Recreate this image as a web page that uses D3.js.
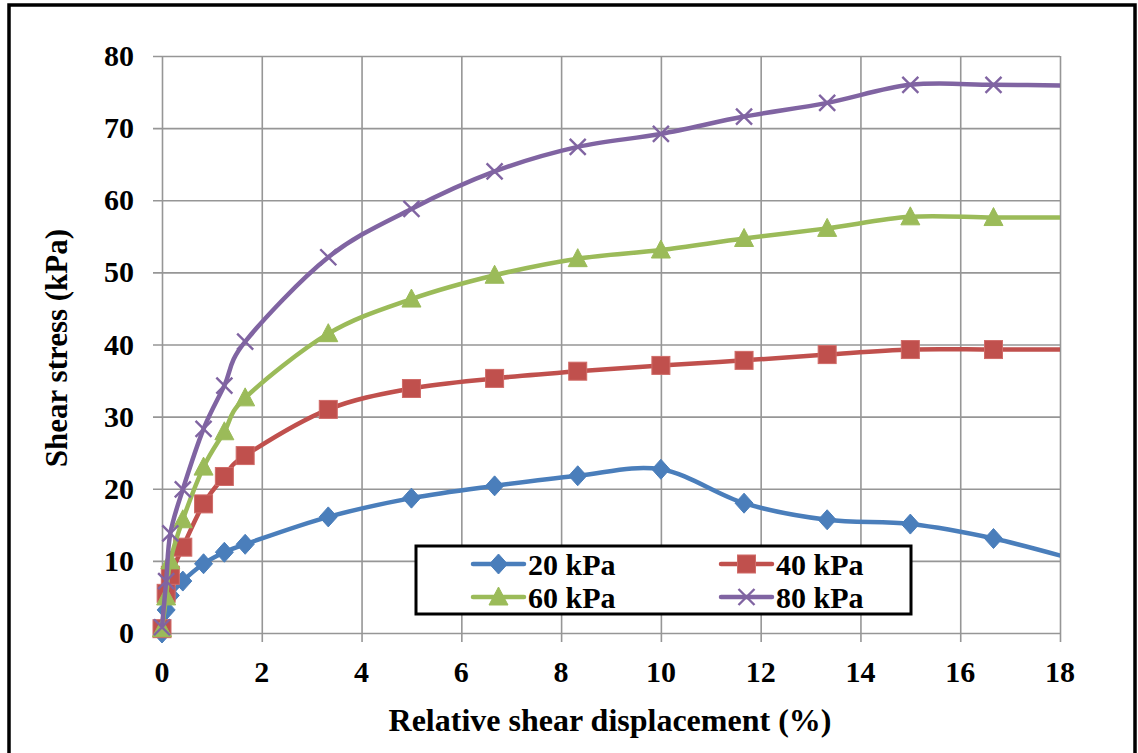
<!DOCTYPE html>
<html>
<head>
<meta charset="utf-8">
<script src="https://cdn.jsdelivr.net/npm/d3@7"></script>
<style>
  html, body { margin: 0; padding: 0; background: #fff; }
  svg { display: block; }
  text { font-family: "Liberation Serif", "Times New Roman", serif; font-weight: bold; fill: #000; }
</style>
</head>
<body>
<svg id="chart" width="1138" height="753"></svg>
<script>
// Relative shear displacement (%) at each reading
const displacement = [0, 0.083, 0.167, 0.417, 0.833, 1.25, 1.667, 3.333, 5, 6.667, 8.333, 10, 11.667, 13.333, 15, 16.667, 18.333];

// Shear stress (kPa) for each normal stress
const stress20 = [0, 3.2, 5.2, 7.2, 9.6, 11.2, 12.3, 16.1, 18.7, 20.4, 21.8, 22.7, 18.0, 15.7, 15.1, 13.1, 10.1];
const stress40 = [0.6, 5.5, 8.0, 11.9, 17.9, 21.7, 24.6, 31.0, 33.9, 35.3, 36.3, 37.1, 37.8, 38.6, 39.3, 39.3, 39.3];
const stress60 = [0.6, 5.0, 10.0, 15.7, 23.0, 27.9, 32.6, 41.5, 46.3, 49.6, 51.9, 53.1, 54.7, 56.1, 57.7, 57.6, 57.6];
const stress80 = [0.8, 7.2, 13.8, 19.9, 28.3, 34.3, 40.4, 52.1, 58.8, 64.0, 67.4, 69.2, 71.6, 73.5, 76.0, 76.0, 75.9];

const seriesNames = ["20 kPa", "40 kPa", "60 kPa", "80 kPa"];
const seriesColors = ["#4a7ebb", "#c0504d", "#9bbb59", "#8064a2"];
const seriesMarkers = ["diamond", "square", "triangle", "cross"];

const xTicks = [0, 2, 4, 6, 8, 10, 12, 14, 16, 18];
const yTicks = [0, 10, 20, 30, 40, 50, 60, 70, 80];

const series = [stress20, stress40, stress60, stress80].map((vals, i) => ({
  name: seriesNames[i],
  color: seriesColors[i],
  marker: seriesMarkers[i],
  points: vals.map((v, j) => [displacement[j], v])
}));

const svg = d3.select("#chart");
const W = 1138, H = 753;
const plot = { left: 162, right: 1060, top: 56, bottom: 633 };

// Outer frame
svg.append("rect")
  .attr("x", 9).attr("y", 5)
  .attr("width", 1126).attr("height", H + 20)
  .attr("fill", "#fff").attr("stroke", "#000").attr("stroke-width", 3.5);

const x = d3.scaleLinear().domain([0, 18]).range([plot.left, plot.right]);
const y = d3.scaleLinear().domain([0, 80]).range([plot.bottom, plot.top]);

const gridColor = "#969696";

// Horizontal gridlines with outside tick stubs
const yAxis = d3.axisLeft(y).tickValues(yTicks).tickSize(-(plot.right - plot.left)).tickFormat("");
const gy = svg.append("g").attr("transform", `translate(${plot.left},0)`).call(yAxis);
gy.select(".domain").remove();
gy.selectAll(".tick line").attr("x1", -9).attr("stroke", gridColor).attr("stroke-width", 1.6);

// Vertical gridlines with tick stubs below the axis
const xAxis = d3.axisBottom(x).tickValues(xTicks).tickSize(-(plot.bottom - plot.top)).tickFormat("");
const gx = svg.append("g").attr("transform", `translate(0,${plot.bottom})`).call(xAxis);
gx.select(".domain").remove();
gx.selectAll(".tick line").attr("y1", 9).attr("stroke", gridColor).attr("stroke-width", 1.6);

// Tick labels
svg.append("g").selectAll("text").data(yTicks).join("text")
  .attr("x", 134).attr("y", d => y(d) + 10)
  .attr("text-anchor", "end").attr("font-size", 30)
  .text(d => d);

svg.append("g").selectAll("text").data(xTicks).join("text")
  .attr("x", d => x(d)).attr("y", 682)
  .attr("text-anchor", "middle").attr("font-size", 30)
  .text(d => d);

// Axis titles
svg.append("text")
  .attr("x", 610).attr("y", 731)
  .attr("text-anchor", "middle").attr("font-size", 32)
  .text("Relative shear displacement (%)");

svg.append("text")
  .attr("transform", "translate(67,348) rotate(-90)")
  .attr("text-anchor", "middle").attr("font-size", 31)
  .text("Shear stress (kPa)");

// Clip to plot area
svg.append("defs").append("clipPath").attr("id", "plotClip")
  .append("rect")
  .attr("x", plot.left - 14).attr("y", plot.top - 14)
  .attr("width", plot.right - plot.left + 14).attr("height", plot.bottom - plot.top + 28);

const line = d3.line()
  .x(d => x(d[0])).y(d => y(d[1]))
  .curve(d3.curveCardinal.tension(0));

function drawMarker(g, type, color, cx, cy) {
  if (type === "diamond") {
    g.append("path").attr("d", `M${cx},${cy - 10}L${cx + 9},${cy}L${cx},${cy + 10}L${cx - 9},${cy}Z`)
      .attr("fill", color).attr("stroke", color).attr("stroke-width", 1);
  } else if (type === "square") {
    g.append("rect").attr("x", cx - 9).attr("y", cy - 9).attr("width", 18).attr("height", 18)
      .attr("fill", color).attr("stroke", "#d06b68").attr("stroke-width", 1);
  } else if (type === "triangle") {
    g.append("path").attr("d", `M${cx},${cy - 10}L${cx + 9.5},${cy + 8}L${cx - 9.5},${cy + 8}Z`)
      .attr("fill", color).attr("stroke", color).attr("stroke-width", 1);
  } else {
    g.append("path").attr("d", `M${cx - 8},${cy - 8}L${cx + 8},${cy + 8}M${cx - 8},${cy + 8}L${cx + 8},${cy - 8}`)
      .attr("fill", "none").attr("stroke", color).attr("stroke-width", 2.4);
  }
}

const dataLayer = svg.append("g").attr("clip-path", "url(#plotClip)");
series.forEach(s => {
  const g = dataLayer.append("g");
  g.append("path").datum(s.points)
    .attr("d", line)
    .attr("fill", "none").attr("stroke", s.color).attr("stroke-width", 4.5)
    .attr("stroke-linejoin", "round");
  s.points.filter(p => p[0] <= 18).forEach(p => drawMarker(g, s.marker, s.color, x(p[0]), y(p[1])));
});

// Legend
const legend = svg.append("g");
legend.append("rect")
  .attr("x", 416).attr("y", 546).attr("width", 495).attr("height", 68)
  .attr("fill", "#fff").attr("stroke", "#000").attr("stroke-width", 3);

const legendPos = [[473, 564], [721, 564], [473, 597], [721, 597]];
series.forEach((s, i) => {
  const [lx, ly] = legendPos[i];
  legend.append("line")
    .attr("x1", lx).attr("x2", lx + 51).attr("y1", ly).attr("y2", ly)
    .attr("stroke", s.color).attr("stroke-width", 4.5).attr("stroke-linecap", "round");
  drawMarker(legend, s.marker, s.color, lx + 25.5, ly);
  legend.append("text")
    .attr("x", lx + 55).attr("y", ly + 11)
    .attr("font-size", 30)
    .text(s.name);
});
</script>
</body>
</html>
